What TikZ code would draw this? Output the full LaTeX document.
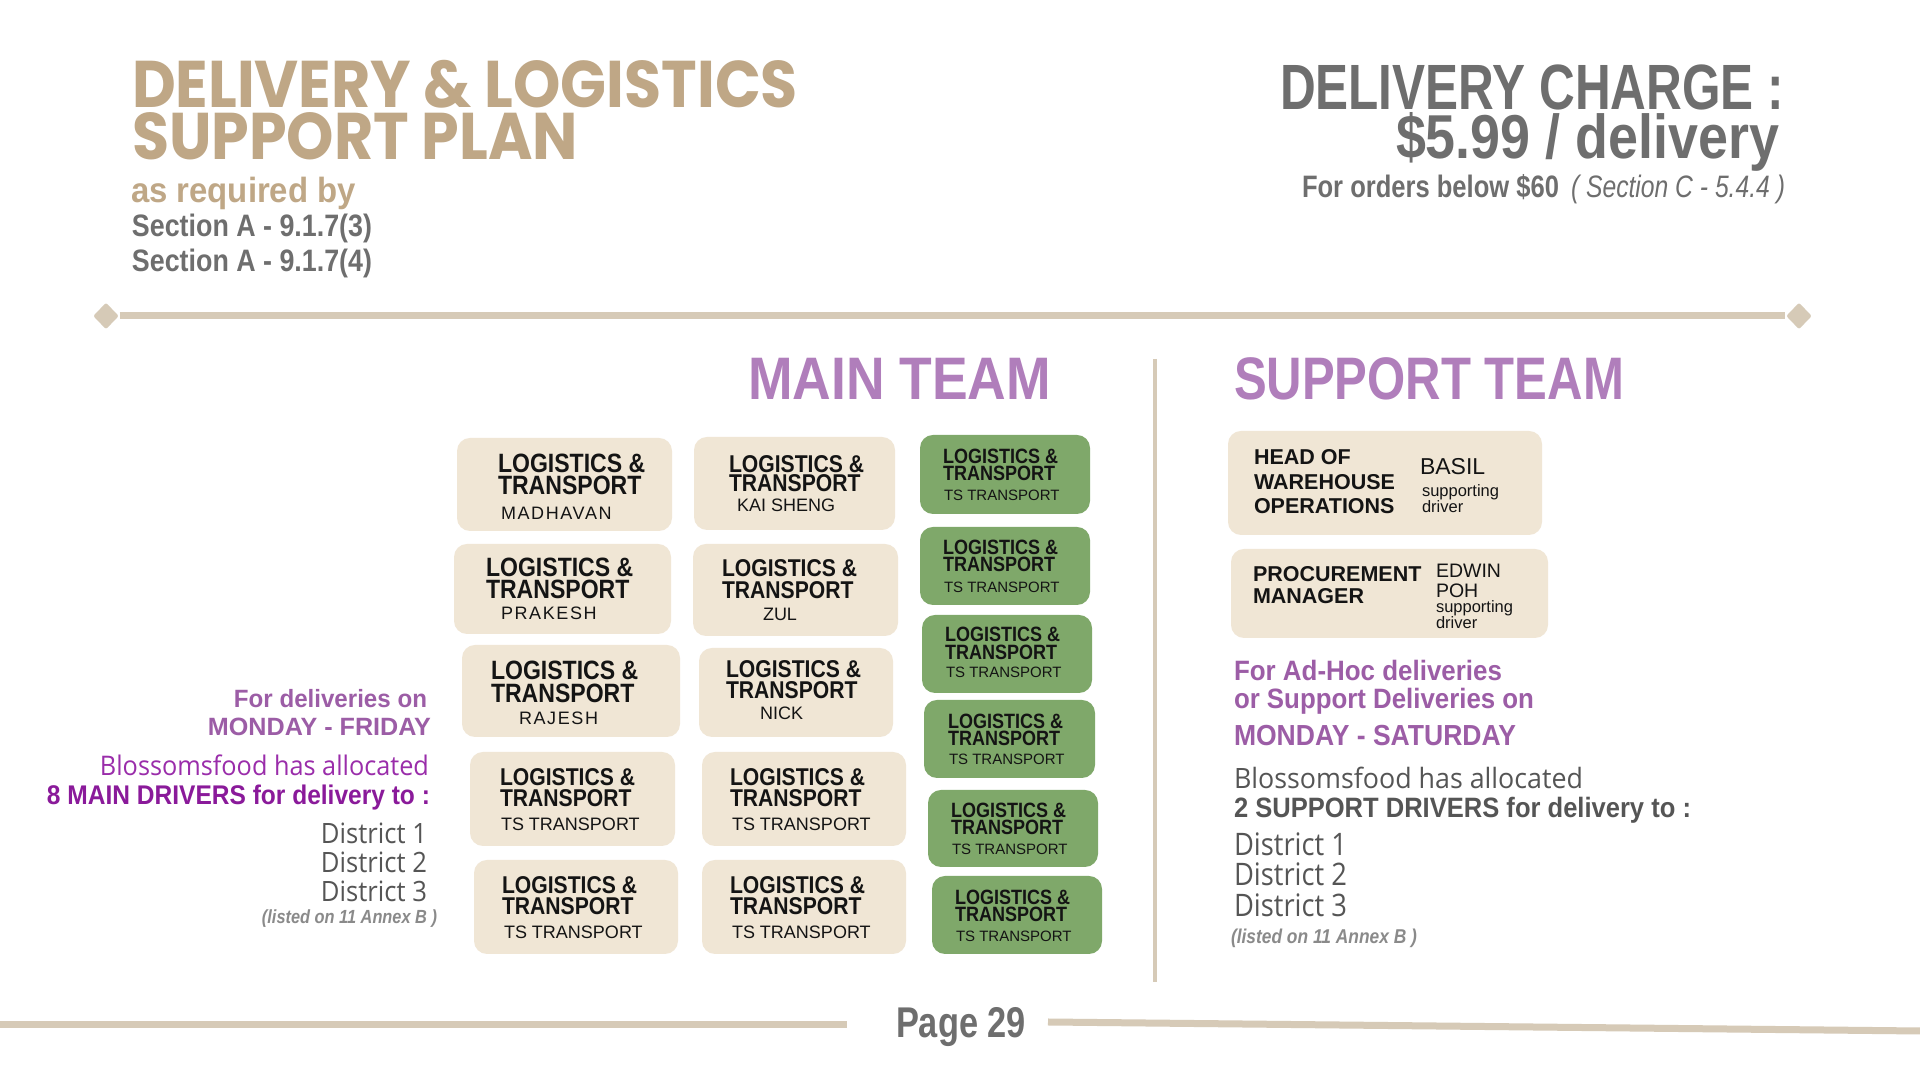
\documentclass[tikz,border=0pt]{standalone}
\usepackage{fontspec}
\usepackage{graphicx}
\usetikzlibrary{shapes.geometric,fit}
\setmainfont{Liberation Sans}
\newfontfamily\popp{Poppins}
\newfontfamily\opens{Open Sans}
\newfontfamily\boxf[FakeStretch=0.87]{Liberation Sans}
\newfontfamily\namef[LetterSpace=9]{Liberation Sans}
\newlength\px \setlength\px{0.01cm}
\newcommand\fpx[1]{\fontsize{#1\px}{#1\px}\selectfont}
\newcommand\hfit[2]{\resizebox{#1\px}{\height}{#2}}
\definecolor{tan}{HTML}{BFA786}
\definecolor{grayh}{HTML}{6E6E6E}
\definecolor{linec}{HTML}{D6CAB7}
\definecolor{beige}{HTML}{F0E6D5}
\definecolor{greenc}{HTML}{7FA86A}
\definecolor{purt}{HTML}{B07EBB}
\definecolor{purm}{HTML}{9C5DA6}
\definecolor{purl}{HTML}{9A2DAA}
\definecolor{purd}{HTML}{8A1A9A}
\definecolor{grayd}{HTML}{555555}
\definecolor{grayl}{HTML}{8A8A8A}
\definecolor{txt}{HTML}{141414}
\newcommand\ltbox[9]{%
  \node[#2, fit={#3}] (#1) {};
  \node[#4] (#1a) at #5 {LOGISTICS \&};
  \node[#4] (#1b) at #6 {TRANSPORT};
  \node[#7] (#1c) at #8 {#9};
}
\begin{document}
\begin{tikzpicture}[x=0.01cm,y=-0.01cm,
  tl/.style={inner sep=0pt, outer sep=0pt, anchor=base west},
  tr/.style={inner sep=0pt, outer sep=0pt, anchor=base east},
  bbox/.style={fill=beige, rounded corners=13\px, inner sep=0pt},
  gbox/.style={fill=greenc, rounded corners=13\px, inner sep=0pt},
  bigA/.style={tl, text=txt, font=\boxf\bfseries\fpx{26.5}},
  bigB/.style={tl, text=txt, font=\boxf\bfseries\fpx{24.3}},
  bigG/.style={tl, text=txt, font=\boxf\bfseries\fpx{20.7}},
  nameS/.style={tl, text=txt, font=\namef\fpx{18}},
  nameN/.style={tl, text=txt, font=\fpx{18}},
  nameG/.style={tl, text=txt, font=\fpx{15}},
  sbig/.style={tl, text=txt, font=\bfseries\fpx{21.5}},
  sname/.style={tl, text=txt, font=\fpx{23}},
  sname2/.style={tl, text=txt, font=\fpx{19.5}},
  ssmall/.style={tl, text=txt, font=\fpx{16.5}},
  rule/.style={linec, line width=7\px},
  tip/.style={diamond, fill=linec, minimum width=26\px, minimum height=27\px, inner sep=0pt, rounded corners=2\px}
]
\useasboundingbox[fill=white] (0,0) rectangle (1920,1080);

% ---------- header left
\node[tl,text=tan] (t1) at (132,108) {\hfit{666}{\popp\bfseries\fpx{66}DELIVERY \& LOGISTICS}};
\node[tl,text=tan] (t2) at (132,160) {\hfit{446}{\popp\bfseries\fpx{66}SUPPORT PLAN}};
\node[tl,text=tan] (t3) at (131,203) {\hfit{225}{\bfseries\fpx{35}as required by}};
\node[tl,text=grayh] (t4) at (132,237) {\hfit{240}{\bfseries\fpx{31}Section A - 9.1.7(3)}};
\node[tl,text=grayh] (t5) at (132,272) {\hfit{240}{\bfseries\fpx{31}Section A - 9.1.7(4)}};

% ---------- header right
\node[tr,text=grayh] (c1) at (1784,110) {\hfit{504}{\bfseries\fpx{64}DELIVERY CHARGE :}};
\node[tr,text=grayh] (c2) at (1779,159) {\hfit{383}{\bfseries\fpx{62}\$5.99 / delivery}};
\node[tl,text=grayh] (c3) at (1302,198) {\hfit{257}{\bfseries\fpx{31}For orders below \$60}};
\node[tr,text=grayh] (c4) at (1785,198) {\hfit{214}{\itshape\fpx{31}( Section C - 5.4.4 )}};

% ---------- top rule
\node[tip] (dl) at (106,316) {};
\node[tip] (dr) at (1799,316) {};
\draw[rule] (dl) -- (dr);

% ---------- team headings and divider
\node[tl,text=purt] (mt) at (748,400) {\hfit{303}{\bfseries\fpx{60}MAIN TEAM}};
\node[tl,text=purt] (st) at (1234,400) {\hfit{390}{\bfseries\fpx{60}SUPPORT TEAM}};
\coordinate (vtop) at (1155,359);
\coordinate (vbot) at (1155,982);
\draw[linec, line width=4\px] (vtop) -- (vbot);

% ---------- main team, column 1
\ltbox{b11}{bbox}{(457,438) (672,531)}{bigA}{(498,473)}{(498,495)}{nameS}{(501,520)}{MADHAVAN}
\ltbox{b12}{bbox}{(454,544) (671,634)}{bigA}{(486,577)}{(486,599)}{nameS}{(501,620)}{PRAKESH}
\ltbox{b13}{bbox}{(462,645) (680,737)}{bigA}{(491,680)}{(491,703)}{nameS}{(519,725)}{RAJESH}
\ltbox{b14}{bbox}{(470,752) (675,846)}{bigB}{(500,786)}{(500,807)}{nameN}{(501,831)}{TS TRANSPORT}
\ltbox{b15}{bbox}{(474,860) (678,954)}{bigB}{(502,894)}{(502,915)}{nameN}{(504,939)}{TS TRANSPORT}
% ---------- main team, column 2
\ltbox{b21}{bbox}{(694,437) (895,530)}{bigB}{(729,473)}{(729,492)}{nameN}{(737,512)}{KAI SHENG}
\ltbox{b22}{bbox}{(693,544) (898,636)}{bigB}{(722,577)}{(722,599)}{nameN}{(763,621)}{ZUL}
\ltbox{b23}{bbox}{(699,648) (893,737)}{bigB}{(726,678)}{(726,699)}{nameN}{(760,720)}{NICK}
\ltbox{b24}{bbox}{(702,752) (906,846)}{bigB}{(730,786)}{(730,807)}{nameN}{(732,831)}{TS TRANSPORT}
\ltbox{b25}{bbox}{(702,860) (906,954)}{bigB}{(730,894)}{(730,915)}{nameN}{(732,939)}{TS TRANSPORT}
% ---------- main team, column 3 (green)
\ltbox{g1}{gbox}{(920,435) (1090,514)}{bigG}{(943,464)}{(943,481)}{nameG}{(944,501)}{TS TRANSPORT}
\ltbox{g2}{gbox}{(920,527) (1090,605)}{bigG}{(943,555)}{(943,572)}{nameG}{(944,593)}{TS TRANSPORT}
\ltbox{g3}{gbox}{(922,615) (1092,693)}{bigG}{(945,642)}{(945,660)}{nameG}{(946,678)}{TS TRANSPORT}
\ltbox{g4}{gbox}{(924,700) (1095,778)}{bigG}{(948,729)}{(948,746)}{nameG}{(949,765)}{TS TRANSPORT}
\ltbox{g5}{gbox}{(928,790) (1098,867)}{bigG}{(951,818)}{(951,835)}{nameG}{(952,855)}{TS TRANSPORT}
\ltbox{g6}{gbox}{(932,876) (1102,954)}{bigG}{(955,905)}{(955,922)}{nameG}{(956,942)}{TS TRANSPORT}

% ---------- support team boxes
\node[bbox, fit={(1228,431) (1542,535)}] (s1) {};
\node[sbig] (s1a) at (1254,465) {HEAD OF};
\node[sbig] (s1b) at (1254,490) {WAREHOUSE};
\node[sbig] (s1c) at (1254,514) {OPERATIONS};
\node[sname] (s1d) at (1420,475) {BASIL};
\node[ssmall] (s1e) at (1422,497) {supporting};
\node[ssmall] (s1f) at (1422,513) {driver};

\node[bbox, fit={(1231,549) (1548,638)}] (s2) {};
\node[sbig] (s2a) at (1253,582) {PROCUREMENT};
\node[sbig] (s2b) at (1253,604) {MANAGER};
\node[sname2] (s2c) at (1436,578) {EDWIN};
\node[sname2] (s2d) at (1436,598) {POH};
\node[ssmall] (s2e) at (1436,613) {supporting};
\node[ssmall] (s2f) at (1436,629) {driver};

% ---------- left notes
\node[tr,text=purm] (l1) at (427,708) {\hfit{193}{\bfseries\fpx{25}For deliveries on}};
\node[tr,text=purm] (l2) at (431,736) {\hfit{223}{\bfseries\fpx{25}MONDAY - FRIDAY}};
\node[tr,text=purl] (l3) at (429,776) {\hfit{329}{\opens\fpx{27}Blossomsfood has allocated}};
\node[tr,text=purd] (l4) at (430,805) {\hfit{383}{\bfseries\fpx{27}8 MAIN DRIVERS for delivery to :}};
\node[tr,text=grayd] (l5) at (427,844) {\hfit{106}{\opens\fpx{28}District 1}};
\node[tr,text=grayd] (l6) at (427,873) {\hfit{106}{\opens\fpx{28}District 2}};
\node[tr,text=grayd] (l7) at (427,902) {\hfit{106}{\opens\fpx{28}District 3}};
\node[tr,text=grayl] (l8) at (437,924) {\hfit{175}{\bfseries\itshape\fpx{19}(listed on 11 Annex B )}};

% ---------- right notes
\node[tl,text=purm] (r1) at (1234,681) {\hfit{268}{\bfseries\fpx{28}For Ad-Hoc deliveries}};
\node[tl,text=purm] (r2) at (1234,709) {\hfit{300}{\bfseries\fpx{28}or Support Deliveries on}};
\node[tl,text=purm] (r3) at (1234,746) {\hfit{282}{\bfseries\fpx{29}MONDAY - SATURDAY}};
\node[tl,text=grayd] (r4) at (1234,789) {\hfit{349}{\opens\fpx{28}Blossomsfood has allocated}};
\node[tl,text=grayd] (r5) at (1234,818) {\hfit{457}{\bfseries\fpx{28}2 SUPPORT DRIVERS for delivery to :}};
\node[tl,text=grayd] (r6) at (1234,856) {\hfit{113}{\opens\fpx{31}District 1}};
\node[tl,text=grayd] (r7) at (1234,886) {\hfit{113}{\opens\fpx{31}District 2}};
\node[tl,text=grayd] (r8) at (1234,917) {\hfit{113}{\opens\fpx{31}District 3}};
\node[tl,text=grayl] (r9) at (1231,944) {\hfit{186}{\bfseries\itshape\fpx{20}(listed on 11 Annex B )}};

% ---------- footer
\coordinate (fl1) at (0,1025);
\coordinate (fl2) at (847,1025);
\coordinate (fr1) at (1048,1022);
\coordinate (fr2) at (1920,1031);
\draw[rule] (fl1) -- (fl2);
\draw[rule] (fr1) -- (fr2);
\node[tl,text=grayh] (pg) at (896,1038) {\hfit{130}{\bfseries\fpx{43}Page 29}};
\end{tikzpicture}
\end{document}
